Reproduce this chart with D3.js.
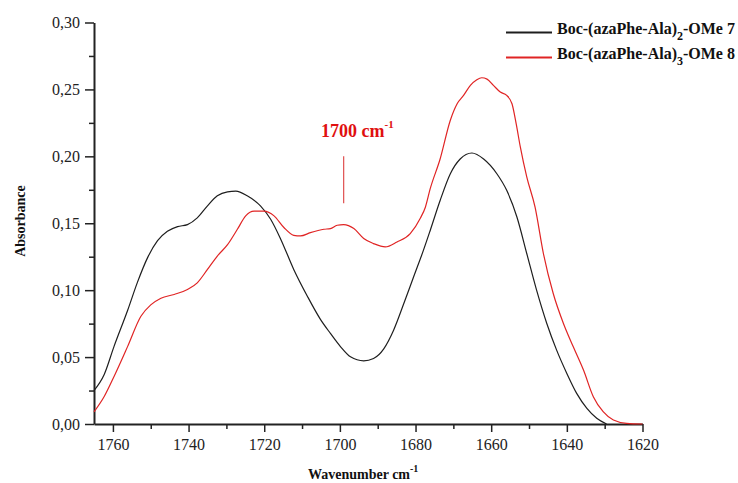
<!DOCTYPE html>
<html><head><meta charset="utf-8">
<script src="https://cdn.jsdelivr.net/npm/d3@7"></script>
<style>html,body{margin:0;padding:0;background:#fff;overflow:hidden}</style>
</head><body>
<script>
// ---- data ----
const blackWave = [1765,1762.3,1759.7,1756.1,1753.5,1750.8,1748.2,1745.6,1742.9,1740.3,1737.7,1735.0,1732.4,1729.7,1727.5,1724.5,1721.0,1718.3,1715.7,1712.2,1708.6,1705.1,1702.5,1699.8,1697.2,1693.7,1691.1,1688.4,1685.8,1683.1,1680.5,1677.9,1676.1,1673.5,1670.8,1668.2,1665.1,1662.0,1658.5,1655.9,1653.2,1650.6,1648.0,1645.3,1642.7,1640.0,1637.4,1634.7,1632.1,1629.5];
const blackAbs  = [0.025,0.037,0.058,0.085,0.106,0.1245,0.137,0.144,0.1475,0.149,0.154,0.163,0.1705,0.1735,0.174,0.1705,0.163,0.153,0.1385,0.1155,0.0955,0.078,0.0677,0.0577,0.0502,0.0472,0.049,0.0562,0.0701,0.09,0.11,0.1299,0.1448,0.167,0.187,0.198,0.2025,0.198,0.187,0.1746,0.1547,0.1274,0.100,0.0751,0.0552,0.0378,0.0229,0.0117,0.0043,0.0];
const redWave = [1765,1762.3,1759.7,1756.1,1752.6,1750.0,1747.3,1743.8,1740.3,1737.7,1735.0,1732.4,1729.7,1727.1,1724.9,1722.7,1720.1,1717.4,1714.8,1712.2,1710.4,1707.8,1704.2,1702.5,1700.7,1699.0,1696.3,1693.7,1691.1,1688.0,1684.9,1681.4,1678.7,1677.4,1676.1,1673.5,1670.8,1669.0,1667.3,1665.5,1663.8,1662.5,1661.1,1659.4,1657.6,1655.9,1654.5,1653.4,1652.3,1650.6,1648.4,1646.2,1643.6,1640.9,1638.3,1635.6,1633.0,1630.4,1627.7,1624.2,1620];
const redAbs  = [0.009,0.0205,0.0355,0.058,0.0805,0.089,0.094,0.0968,0.1005,0.1055,0.1155,0.1255,0.134,0.1455,0.1555,0.159,0.159,0.1555,0.1468,0.141,0.1405,0.143,0.1455,0.146,0.1485,0.149,0.146,0.1386,0.1348,0.1323,0.136,0.1423,0.154,0.162,0.176,0.198,0.227,0.2393,0.2455,0.253,0.2572,0.2587,0.2577,0.253,0.248,0.2455,0.2393,0.2244,0.207,0.1846,0.162,0.1274,0.0975,0.0751,0.0577,0.0403,0.0204,0.0092,0.003,0.0005,0.0];
const xMajorTicks = [1760,1740,1720,1700,1680,1660,1640,1620];
const xMinorTicks = [1750,1730,1710,1690,1670,1650,1630];
const yMajorTicks = [0,0.05,0.10,0.15,0.20,0.25,0.30];
const yMinorTicks = [0.025,0.075,0.125,0.175,0.225,0.275];
const seriesNames = ["Boc-(azaPhe-Ala)", "Boc-(azaPhe-Ala)"];
const seriesSubs = ["2", "3"];
const seriesTails = ["-OMe 7", "-OMe 8"];
const seriesColors = ["#1e1e1e", "#e02424"];
const annotationWave = 1699;
const annotationRange = [0.165, 0.200];

// ---- chart ----
const W = 738, H = 483;
const FONT = "'Liberation Serif','Times New Roman',serif";
const svg = d3.select("body").append("svg").attr("width", W).attr("height", H)
  .style("font-family", FONT);
svg.append("rect").attr("width", W).attr("height", H).attr("fill", "#fff");

const x = d3.scaleLinear().domain([1765, 1620]).range([94, 642.5]);
const y = d3.scaleLinear().domain([0, 0.30]).range([424, 22.5]);
const fmt = v => d3.format(".2f")(v).replace(".", ",");

// minor ticks
const gxm = svg.append("g").attr("transform", "translate(0,424)")
  .call(d3.axisBottom(x).tickValues(xMinorTicks).tickSize(5).tickFormat(""));
const gym = svg.append("g").attr("transform", "translate(94,0)")
  .call(d3.axisLeft(y).tickValues(yMinorTicks).tickSize(5).tickFormat(""));
[gxm, gym].forEach(g => { g.select(".domain").remove(); g.selectAll("line").attr("stroke", "#222").attr("stroke-width", 1.5); });

const gx = svg.append("g").attr("transform", "translate(0,424)")
  .call(d3.axisBottom(x).tickValues(xMajorTicks).tickSize(8).tickPadding(7).tickFormat(d3.format("d")).tickSizeOuter(0));
const gy = svg.append("g").attr("transform", "translate(94,0)")
  .call(d3.axisLeft(y).tickValues(yMajorTicks).tickSize(9).tickPadding(5).tickFormat(fmt).tickSizeOuter(0));
[gx, gy].forEach(g => {
  g.select(".domain").attr("stroke", "#222").attr("stroke-width", 2);
  g.selectAll(".tick line").attr("stroke", "#222").attr("stroke-width", 1.5);
  g.selectAll(".tick text").attr("fill", "#222").style("font-size", "16px").style("font-family", FONT);
});

// curves
const line = d3.line().x(d => x(d[0])).y(d => y(d[1])).curve(d3.curveMonotoneX);
const series = [
  d3.zip(blackWave, blackAbs),
  d3.zip(redWave, redAbs)
];
series.forEach((s, i) => {
  svg.append("path").datum(s).attr("d", line).attr("fill", "none")
    .attr("stroke", seriesColors[i]).attr("stroke-width", 1.2);
});

// annotation
svg.append("line").attr("x1", x(annotationWave)).attr("x2", x(annotationWave))
  .attr("y1", y(annotationRange[1])).attr("y2", y(annotationRange[0]))
  .attr("stroke", "#e05050").attr("stroke-width", 1.2);
const ann = svg.append("text").attr("x", 321).attr("y", 137)
  .attr("fill", "#e01010").style("font-size", "18px").style("font-weight", "bold");
ann.append("tspan").text("1700 cm");
ann.append("tspan").attr("dy", -9).style("font-size", "11px").text("-1");

// legend
seriesNames.forEach((n, i) => {
  const yy = 32.5 + i * 25;
  svg.append("line").attr("x1", 506).attr("x2", 552).attr("y1", yy).attr("y2", yy)
    .attr("stroke", seriesColors[i]).attr("stroke-width", 2.2);
  const t = svg.append("text").attr("x", 557).attr("y", yy + 1)
    .attr("fill", "#111").style("font-size", "16px").style("font-weight", "bold");
  t.append("tspan").text(n);
  t.append("tspan").attr("dy", 6).style("font-size", "12px").text(seriesSubs[i]);
  t.append("tspan").attr("dy", -6).text(seriesTails[i]);
});

// axis titles
svg.append("text").attr("transform", "translate(25,221) rotate(-90)")
  .attr("text-anchor", "middle").attr("fill", "#111")
  .style("font-size", "14px").style("font-weight", "bold").text("Absorbance");
const xt = svg.append("text").attr("x", 308).attr("y", 479)
  .attr("fill", "#111").style("font-size", "14px").style("font-weight", "bold");
xt.append("tspan").text("Wavenumber cm");
xt.append("tspan").attr("dy", -7).style("font-size", "10px").text("-1");
</script>
</body></html>
